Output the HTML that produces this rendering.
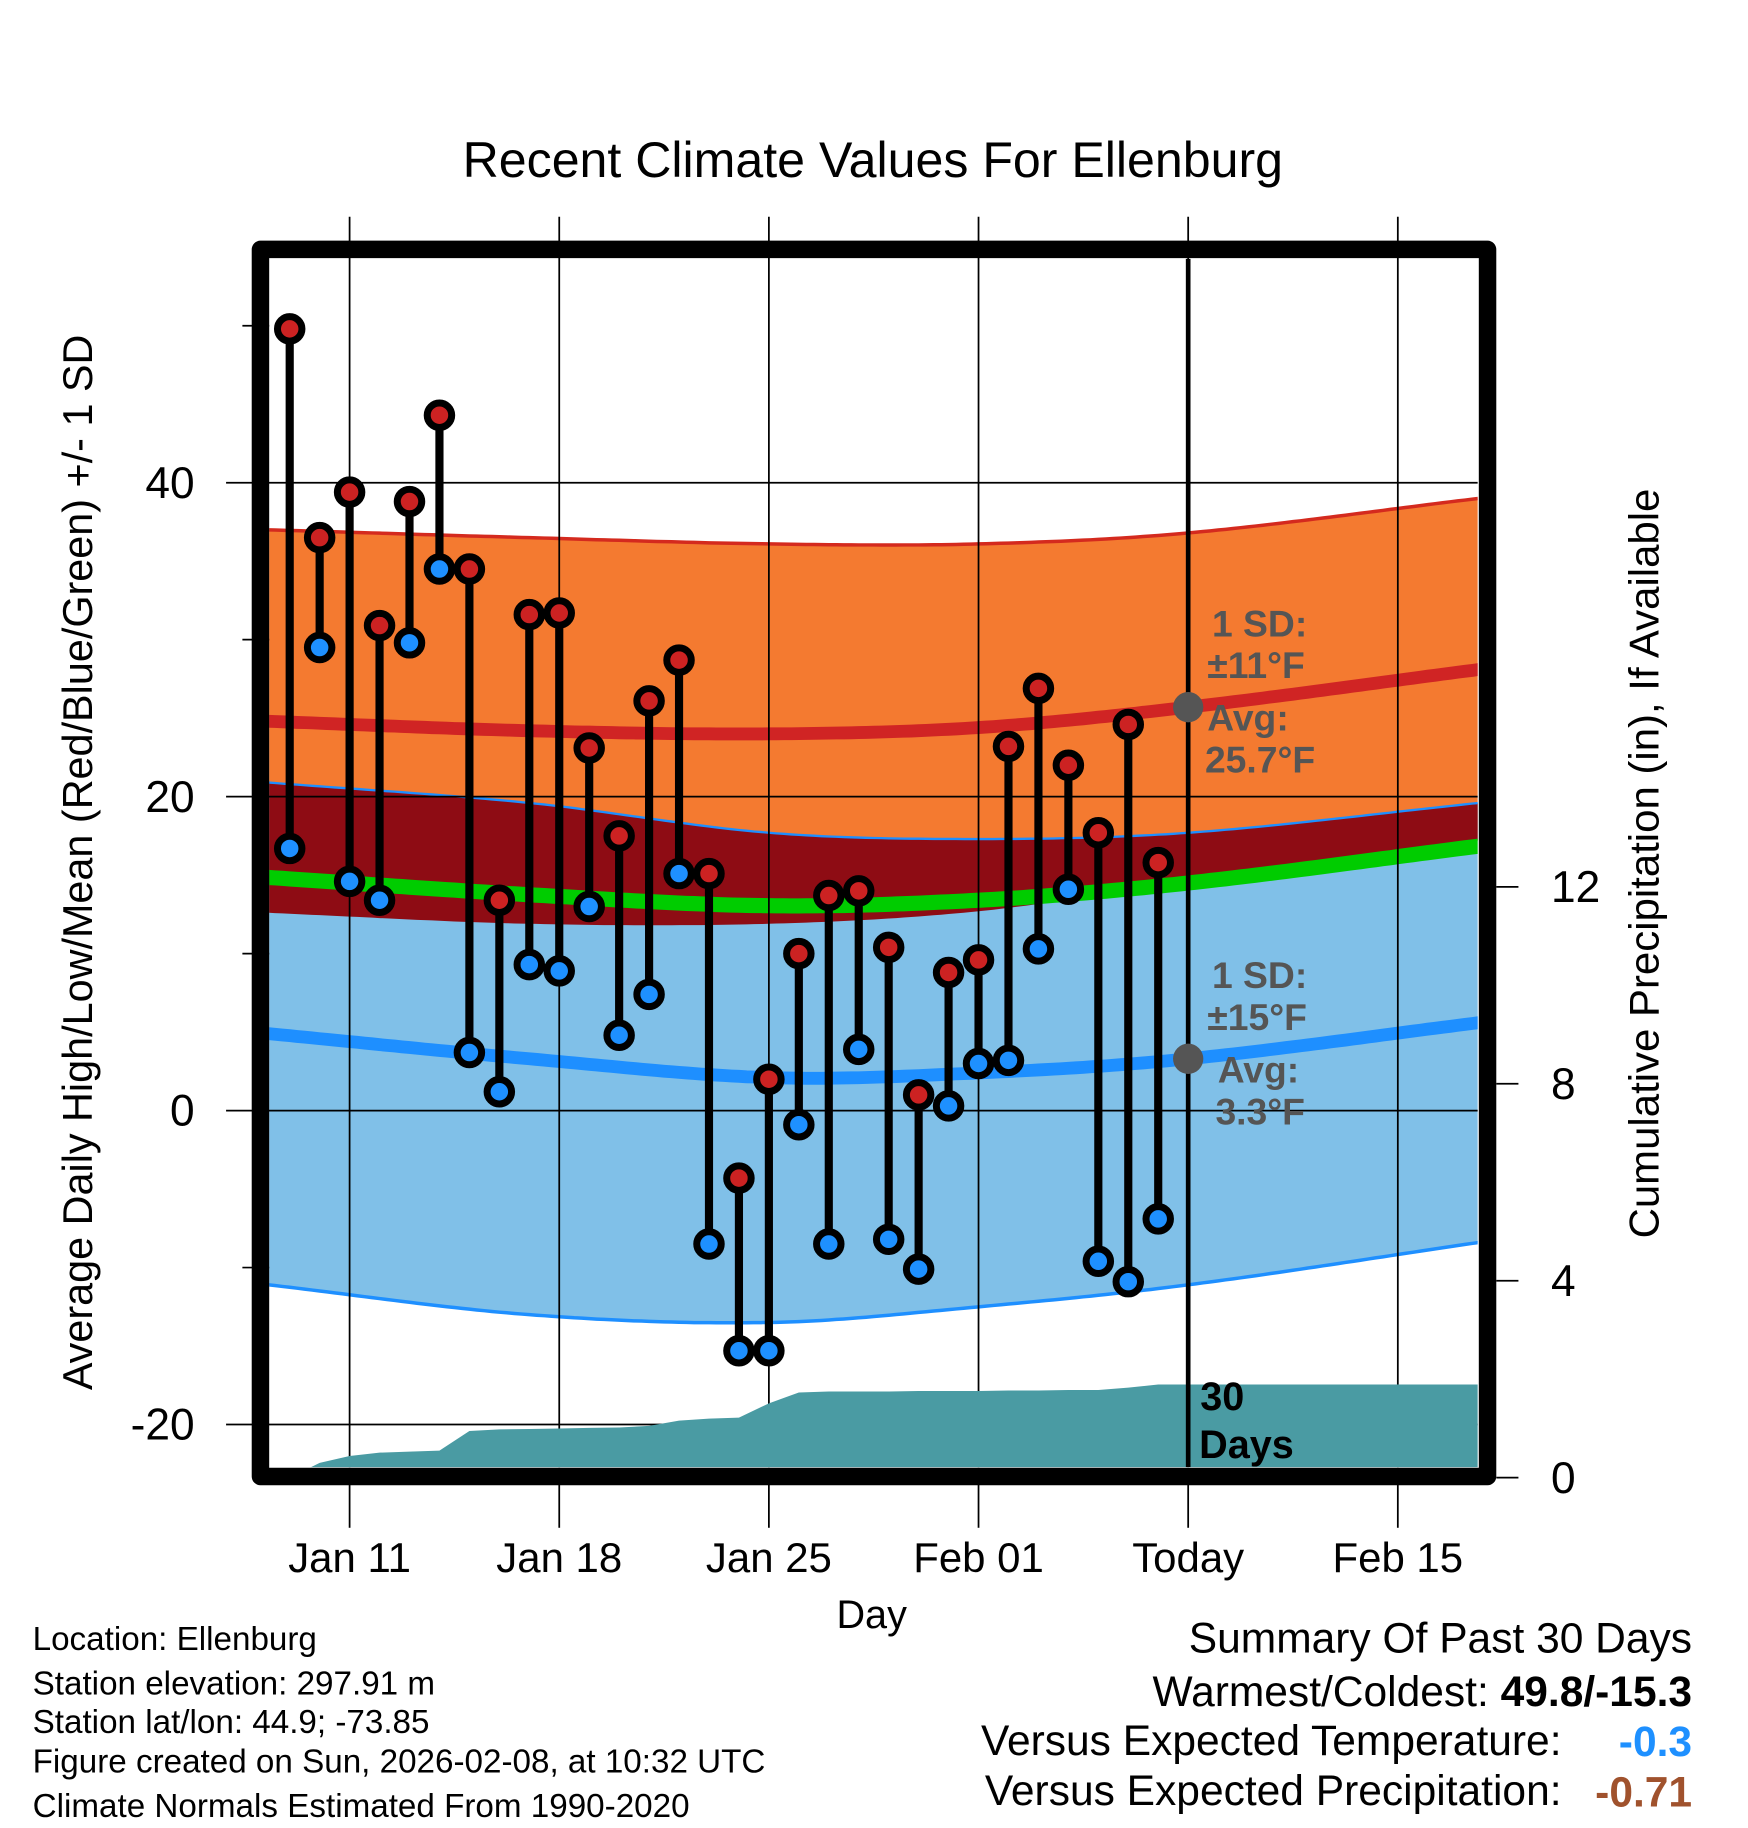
<!DOCTYPE html>
<html><head><meta charset="utf-8"><style>
html,body{margin:0;padding:0;background:#fff;}
svg{display:block;font-family:"Liberation Sans",Arial,sans-serif;}
</style></head><body>
<svg id="chart" width="1748" height="1828" viewBox="0 0 1500 1568.6" xmlns="http://www.w3.org/2000/svg">
<defs><clipPath id="plotclip"><rect x="231" y="222" width="1037" height="1037"/></clipPath></defs>
<rect x="0" y="0" width="1500" height="1568.6" fill="#fff"/>
<text x="749" y="152" font-size="43" text-anchor="middle">Recent Climate Values For Ellenburg</text>
<g id="bands" clip-path="url(#plotclip)"></g>
<g id="grid"></g>
<g id="precip" clip-path="url(#plotclip)"></g>
<g id="points"></g>
<g id="frame"></g>
<g id="labels"></g>
<text transform="translate(79,740) rotate(-90)" font-size="35.5" text-anchor="middle">Average Daily High/Low/Mean (Red/Blue/Green) +/- 1 SD</text>
<text transform="translate(1423,741) rotate(-90)" font-size="36" text-anchor="middle">Cumulative Precipitation (in), If Available</text>
<text x="748" y="1397" font-size="34" text-anchor="middle">Day</text>
<g fill="#555" font-weight="bold" font-size="32">
<text x="1040" y="546">1 SD:</text><text x="1036" y="582">±11°F</text><text x="1036" y="627">Avg:</text><text x="1034" y="663">25.7°F</text></g>
<g fill="#555" font-weight="bold" font-size="32">
<text x="1040" y="848">1 SD:</text><text x="1036" y="884">±15°F</text><text x="1045" y="929">Avg:</text><text x="1043" y="965">3.3°F</text></g>
<g font-weight="bold" font-size="34" fill="#000">
<text x="1030" y="1210">30</text><text x="1029" y="1251">Days</text></g>
<g font-size="28.5" fill="#000">
<text x="28" y="1416">Location: Ellenburg</text>
<text x="28" y="1454">Station elevation: 297.91 m</text>
<text x="28" y="1487">Station lat/lon: 44.9; -73.85</text>
<text x="28" y="1521">Figure created on Sun, 2026-02-08, at 10:32 UTC</text>
<text x="28" y="1559">Climate Normals Estimated From 1990-2020</text></g>
<g font-size="36.5" fill="#000">
<text x="1452" y="1418" text-anchor="end">Summary Of Past 30 Days</text>
<text x="1452" y="1464" text-anchor="end">Warmest/Coldest: <tspan font-weight="bold">49.8/-15.3</tspan></text>
<text x="1340" y="1506" text-anchor="end">Versus Expected Temperature:</text>
<text x="1452" y="1507" text-anchor="end" font-weight="bold" fill="#1e90ff">-0.3</text>
<text x="1340" y="1549" text-anchor="end">Versus Expected Precipitation:</text>
<text x="1452" y="1550" text-anchor="end" font-weight="bold" fill="#a0522d">-0.71</text></g>
</svg>
<script>
// day index 0 = Jan 9
const highs=[49.8,36.5,39.4,30.9,38.8,44.3,34.5,13.4,31.6,31.7,23.1,17.5,26.1,28.7,15.1,-4.3,2.0,10.0,13.7,14.0,10.4,1.0,8.8,9.6,23.2,26.9,22.0,17.7,24.6,15.8];
const lows=[16.7,29.5,14.6,13.4,29.8,34.5,3.7,1.2,9.3,8.9,13.0,4.8,7.4,15.1,-8.5,-15.3,-15.3,-0.9,-8.5,3.9,-8.2,-10.1,0.3,3.0,3.2,10.3,14.1,-9.6,-10.9,-6.9];
const precip=[0,0.3,0.44,0.51,0.53,0.55,0.95,0.98,0.99,1.0,1.01,1.02,1.05,1.16,1.2,1.22,1.51,1.73,1.75,1.75,1.75,1.76,1.76,1.76,1.77,1.77,1.78,1.78,1.83,1.89];
const normDays=[-0.7,8,16,23,30,39.7];
const highMean=[24.8,24.2,24.0,24.4,25.7,28.1];
const highSD=[12.2,12.3,12.1,11.7,11.1,10.9];
const lowMean=[4.9,3.3,2.1,2.4,3.3,5.6];
const lowSD=[16.0,16.3,15.6,14.9,14.4,14.0];
const tempTicks=[40,20,0,-20];
const minorTicks=[50,30,10,-10];
const precipTicks=[0,4,8,12];
const xTickDays=[2,9,16,23,30,37];
const xTickLabels=["Jan 11","Jan 18","Jan 25","Feb 01","Today","Feb 15"];
const todayDay=30;

const NS="http://www.w3.org/2000/svg";
const X=d=>248.6+25.7*d;
const Y=v=>953-13.47*v;
const YP=p=>1268-42.25*p;
function mk(tag,attrs,parent){const e=document.createElementNS(NS,tag);for(const k in attrs)e.setAttribute(k,attrs[k]);parent.appendChild(e);return e;}
function interp(ds,vs,d){
  let i=0;while(i<ds.length-2&&d>ds[i+1])i++;
  const t=(d-ds[i])/(ds[i+1]-ds[i]);
  const m=j=>{const a=Math.max(0,j-1),b=Math.min(ds.length-1,j+1);return (vs[b]-vs[a])/(ds[b]-ds[a])*(ds[i+1]-ds[i]);};
  const p0=vs[i],p1=vs[i+1],m0=m(i),m1=m(i+1);
  const t2=t*t,t3=t2*t;
  return (2*t3-3*t2+1)*p0+(t3-2*t2+t)*m0+(-2*t3+3*t2)*p1+(t3-t2)*m1;
}
const samples=[];for(let d=-1;d<=40.6;d+=0.25)samples.push(d);
const hm=samples.map(d=>interp(normDays,highMean,d));
const hs=samples.map(d=>interp(normDays,highSD,d));
const lm=samples.map(d=>interp(normDays,lowMean,d));
const ls=samples.map(d=>interp(normDays,lowSD,d));
const line=(vals)=>samples.map((d,i)=>(i?'L':'M')+X(d).toFixed(1)+','+Y(vals[i]).toFixed(1)).join('');
const band=(top,bot)=>line(top)+samples.slice().reverse().map((d,k)=>{const i=samples.length-1-k;return 'L'+X(d).toFixed(1)+','+Y(bot[i]).toFixed(1);}).join('')+'Z';
const hTop=hm.map((v,i)=>v+hs[i]),hBot=hm.map((v,i)=>v-hs[i]);
const lTop=lm.map((v,i)=>v+ls[i]),lBot=lm.map((v,i)=>v-ls[i]);
const mean=hm.map((v,i)=>(v+lm[i])/2);
const bands=document.getElementById('bands');
let e;
e=mk('path',{d:band(hTop,hBot),fill:'#f47a30'},bands);

e=mk('path',{d:band(lTop,lBot),fill:'#80c0e8'},bands);

const ovTop=lTop.map((v,i)=>Math.min(v,hTop[i])),ovBot=hBot.map((v,i)=>Math.min(v,lTop[i]));
e=mk('path',{d:band(ovTop,ovBot),fill:'#8e0c14'},bands);

e=mk('path',{d:line(hTop),fill:'none',stroke:'#d42a1e','stroke-width':3},bands);

e=mk('path',{d:line(lTop),fill:'none',stroke:'#1e8fff','stroke-width':2},bands);

e=mk('path',{d:line(lBot),fill:'none',stroke:'#1e8fff','stroke-width':3},bands);

e=mk('path',{d:line(mean),fill:'none',stroke:'#00cc00','stroke-width':13},bands);

e=mk('path',{d:line(hm),fill:'none',stroke:'#d02424','stroke-width':11},bands);

e=mk('path',{d:line(lm),fill:'none',stroke:'#1e8fff','stroke-width':11},bands);


const grid=document.getElementById('grid');
tempTicks.forEach(v=>{e=mk('line',{x1:194,x2:1268,y1:Y(v),y2:Y(v),stroke:'#000','stroke-width':1.5},grid);
});
minorTicks.forEach(v=>{e=mk('line',{x1:208,x2:231,y1:Y(v),y2:Y(v),stroke:'#000','stroke-width':1.5},grid);
});
xTickDays.forEach(d=>{e=mk('line',{x1:X(d),x2:X(d),y1:186,y2:1259,stroke:'#000','stroke-width':1.5},grid);

e=mk('line',{x1:X(d),x2:X(d),y1:1270,y2:1311,stroke:'#000','stroke-width':1.5},grid);
});

const pg=document.getElementById('precip');
let pd='M'+X(0)+','+YP(0);
precip.forEach((p,i)=>{pd+='L'+X(i).toFixed(1)+','+YP(p).toFixed(1);});
pd+='L1270,'+YP(precip[precip.length-1]).toFixed(1)+'L1270,1270L'+X(0)+',1270Z';
e=mk('path',{d:pd,fill:'#4a9ba3'},pg);

e=mk('line',{x1:X(todayDay),x2:X(todayDay),y1:222,y2:1259,stroke:'#000','stroke-width':4},pg);

e=mk('circle',{cx:X(todayDay),cy:Y(highMean[4]),r:13,fill:'#555'},pg);

e=mk('circle',{cx:X(todayDay),cy:Y(lowMean[4]),r:13,fill:'#555'},pg);


const pts=document.getElementById('points');
highs.forEach((h,i)=>{
  e=mk('line',{x1:X(i),x2:X(i),y1:Y(h),y2:Y(lows[i]),stroke:'#000','stroke-width':7},pts);
  
});
highs.forEach((h,i)=>{
  e=mk('circle',{cx:X(i),cy:Y(lows[i]),r:10.5,fill:'#1e90ff',stroke:'#000','stroke-width':6},pts);
  
  e=mk('circle',{cx:X(i),cy:Y(h),r:10.5,fill:'#cc2222',stroke:'#000','stroke-width':6},pts);
  
});

const fr=document.getElementById('frame');
e=mk('rect',{x:223.5,y:214,width:1053,height:1053,fill:'none',stroke:'#000','stroke-width':15,'stroke-linejoin':'round'},fr);

precipTicks.forEach(p=>{e=mk('line',{x1:1284,x2:1303,y1:YP(p),y2:YP(p),stroke:'#000','stroke-width':1.5},fr);
});

const lb=document.getElementById('labels');
tempTicks.forEach(v=>{e=mk('text',{x:167,y:Y(v)+13,'font-size':38,'text-anchor':'end'},lb);e.textContent=String(v);
});
precipTicks.forEach(p=>{e=mk('text',{x:1331,y:YP(p)+13,'font-size':38},lb);e.textContent=String(p);
});
xTickDays.forEach((d,i)=>{e=mk('text',{x:X(d),y:1349,'font-size':36,'text-anchor':'middle'},lb);e.textContent=xTickLabels[i];
});
</script>
</body></html>
